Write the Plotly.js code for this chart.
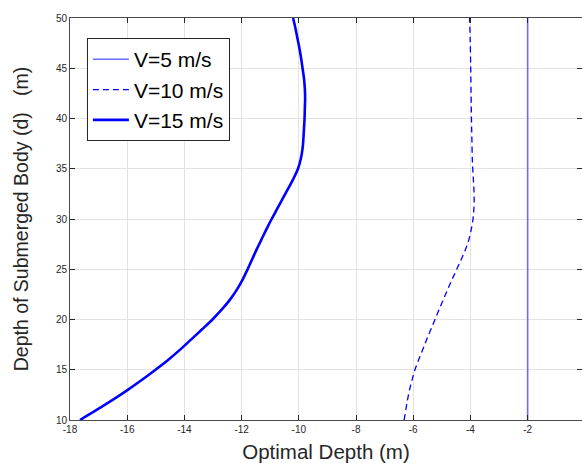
<!DOCTYPE html>
<html>
<head>
<meta charset="utf-8">
<script src="https://cdn.plot.ly/plotly-3.0.1.min.js"></script>
<style>html,body{margin:0;padding:0;background:#fff;}#chart{width:582px;height:463px;}</style>
</head>
<body>
<div id="chart"></div>
<script>
// Depth of submerged body (m)
const depthV5 = [10, 50];
const optV5 = [-2, -2];

const depthV10 = [10,11,12,13,14,15,16,17,18,19,20,21,22,23,24,25,26,27,28,29,30,31,32,33,34,35,36,38,40,42,45,48,50];
const optV10 = [-6.32,-6.26,-6.20,-6.13,-6.04,-5.94,-5.81,-5.67,-5.53,-5.385,-5.24,-5.095,-4.945,-4.795,-4.64,-4.48,-4.32,-4.17,-4.05,-3.97,-3.91,-3.88,-3.87,-3.88,-3.90,-3.92,-3.935,-3.95,-3.965,-3.975,-3.99,-4.01,-4.03];

const depthV15 = [10,11,12,13,14,15,16,17,18,19,20,21,22,23,24,25,26,27,28,29,30,31,32,33,34,35,36,37,38,39,40,41,42,43,44,45,46,47,48,49,50];
const optV15 = [-17.65,-17.07,-16.51,-15.98,-15.48,-15.01,-14.56,-14.15,-13.77,-13.39,-13.02,-12.69,-12.40,-12.16,-11.96,-11.79,-11.63,-11.47,-11.30,-11.13,-10.95,-10.76,-10.57,-10.38,-10.19,-10.03,-9.93,-9.87,-9.84,-9.82,-9.80,-9.79,-9.78,-9.79,-9.82,-9.87,-9.92,-9.98,-10.05,-10.12,-10.2];

const seriesNames = ['V=5 m/s', 'V=10 m/s', 'V=15 m/s'];
const xTicks = [-18,-16,-14,-12,-10,-8,-6,-4,-2,0];
const yTicks = [10,15,20,25,30,35,40,45,50];

const traces = [
  {x: optV5, y: depthV5, name: seriesNames[0], mode: 'lines', legendgroup: 'a',
   line: {color: '#6b6bff', width: 1.6}},
  {x: optV10, y: depthV10, name: seriesNames[1], mode: 'lines', legendgroup: 'b',
   line: {color: '#0000ff', width: 1.3, dash: '6px,4px', shape: 'spline', smoothing: 1, simplify: false}},
  {x: optV15, y: depthV15, name: seriesNames[2], mode: 'lines', legendgroup: 'c',
   line: {color: '#0000ff', width: 2.6, shape: 'spline', smoothing: 1, simplify: false}}
];

const font = 'Liberation Sans, Arial, Helvetica, sans-serif';
const axisCommon = {
  showline: true, linecolor: '#4a4a4a', linewidth: 1, mirror: 'ticks',
  ticks: 'inside', ticklen: 5, tickcolor: '#262626', tickwidth: 1,
  showgrid: true, gridcolor: '#e3e3e3', gridwidth: 1, zeroline: false,
  tickfont: {family: font, size: 10, color: '#262626'}
};

const layout = {
  width: 582, height: 463,
  margin: {l: 70, r: 0, t: 18, b: 43},
  paper_bgcolor: '#ffffff', plot_bgcolor: '#ffffff',
  font: {family: font, color: '#262626'},
  showlegend: true,
  legend: {
    x: 0.033, y: 0.95, xanchor: 'left', yanchor: 'top',
    bgcolor: '#ffffff', bordercolor: '#262626', borderwidth: 1,
    font: {family: font, size: 21, color: '#000000'},
    tracegroupgap: 17, traceorder: 'normal', itemwidth: 36
  },
  xaxis: Object.assign({}, axisCommon, {
    range: [-18, -0.1], tickvals: xTicks, ticktext: xTicks.map(String),
    title: {text: 'Optimal Depth (m)', font: {family: font, size: 20.5, color: '#262626'}, standoff: 10}
  }),
  yaxis: Object.assign({}, axisCommon, {
    range: [10, 50], tickvals: yTicks, ticktext: yTicks.map(String),
    title: {text: 'Depth of Submerged Body (d)   (m)', font: {family: font, size: 19.5, color: '#262626'}, standoff: 22}
  })
};

Plotly.newPlot('chart', traces, layout, {displayModeBar: false, staticPlot: true});
</script>
</body>
</html>
